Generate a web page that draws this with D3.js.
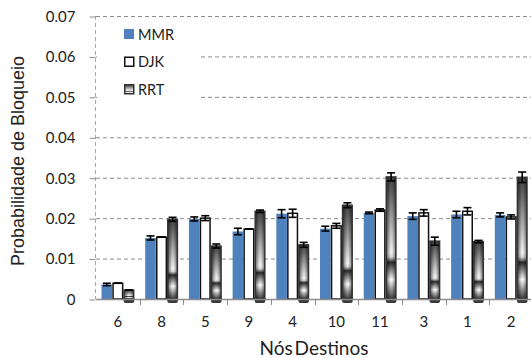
<!DOCTYPE html>
<html>
<head>
<meta charset="utf-8">
<script src="https://cdn.jsdelivr.net/npm/d3@7"></script>
<style>
  body { margin: 0; background: #fff; }
  svg { display: block; }
</style>
</head>
<body>
<div id="chart"></div>
<script>
// data
const categories = ["6", "8", "5", "9", "4", "10", "11", "3", "1", "2"];
const series = ["MMR", "DJK", "RRT"];
const mmr    = [0.0036, 0.0151, 0.0198, 0.0167, 0.0211, 0.0174, 0.0213, 0.0205, 0.0209, 0.0208];
const djk    = [0.0039, 0.0153, 0.0200, 0.0173, 0.0212, 0.0181, 0.0220, 0.0213, 0.0217, 0.0203];
const rrt    = [0.0022, 0.0197, 0.0131, 0.0217, 0.0134, 0.0232, 0.0302, 0.0143, 0.0142, 0.0301];
const mmrErr = [0.0003, 0.0005, 0.0005, 0.0008, 0.0010, 0.0006, 0.0002, 0.0008, 0.0008, 0.0005];
const djkErr = [0.0000, 0.0000, 0.0006, 0.0000, 0.0010, 0.0006, 0.0003, 0.0008, 0.0009, 0.0005];
const rrtErr = [0.0000, 0.0005, 0.0005, 0.0003, 0.0006, 0.0006, 0.0010, 0.0010, 0.0003, 0.0013];
const yTicks = [0, 0.01, 0.02, 0.03, 0.04, 0.05, 0.06, 0.07];

const width = 531, height = 358;
const svg = d3.select("#chart").append("svg")
  .attr("width", width)
  .attr("height", height);

const labelFont = "Lato, 'Open Sans', sans-serif";

const defs = svg.append("defs");
// RRT fill: banded vertical gradient plus darker sides
const vg = defs.append("linearGradient").attr("id", "rrtV")
  .attr("x1", 0).attr("y1", 0).attr("x2", 0).attr("y2", 1);
[[0, "#454545"], [0.1, "#5a5a5a"], [0.62, "#f0f0f0"], [0.655, "#d8d8d8"], [0.7, "#2c2c2c"],
 [0.84, "#fafafa"], [0.93, "#8a8a8a"], [1, "#3a3a3a"]]
  .forEach(s => vg.append("stop").attr("offset", s[0]).attr("stop-color", s[1]));
const hg = defs.append("linearGradient").attr("id", "rrtH")
  .attr("x1", 0).attr("y1", 0).attr("x2", 1).attr("y2", 0);
[[0, 0.55], [0.45, 0], [0.6, 0], [1, 0.5]]
  .forEach(s => hg.append("stop").attr("offset", s[0]).attr("stop-color", "#000").attr("stop-opacity", s[1]));

const x = d3.scaleBand().domain(categories).range([96, 533]);
const x1 = d3.scaleBand().domain(series).range([0, x.bandwidth()]).paddingInner(0.04).paddingOuter(0.5);
const y = d3.scaleLinear().domain([0, 0.07]).range([299, 16]);

// grid lines
svg.append("g").selectAll("line")
  .data(yTicks.filter(d => d > 0))
  .join("line")
  .attr("x1", 96).attr("x2", width)
  .attr("y1", d => y(d) + 0.5).attr("y2", d => y(d) + 0.5)
  .attr("stroke", "#8c8c8c")
  .attr("stroke-dasharray", "4,3");

// left axis (dashed) with ticks
svg.append("line")
  .attr("x1", 95.5).attr("x2", 95.5).attr("y1", y(0.07)).attr("y2", y(0))
  .attr("stroke", "#a6a6a6").attr("stroke-dasharray", "4,3");
const yAxis = svg.append("g")
  .attr("transform", "translate(95.5,0.5)")
  .call(d3.axisLeft(y).tickValues(yTicks).tickSize(6).tickPadding(14)
    .tickFormat(d => d === 0 ? "0" : d3.format(".2f")(d)));
yAxis.select(".domain").remove();
yAxis.selectAll("line").attr("stroke", "#8c8c8c");
yAxis.selectAll("text")
  .attr("font-family", labelFont)
  .attr("font-size", 15).attr("fill", "#222");

// legend box background
svg.append("rect")
  .attr("x", 97).attr("y", 20).attr("width", 104).attr("height", 82)
  .attr("fill", "#fff");

// bars
const groups = svg.append("g").selectAll("g")
  .data(categories.map((c, i) => ({ c, v: [mmr[i], djk[i], rrt[i]], e: [mmrErr[i], djkErr[i], rrtErr[i]] })))
  .join("g")
  .attr("transform", d => `translate(${x(d.c)},0)`);

const bw = x1.bandwidth();
groups.each(function (d) {
  const g = d3.select(this);
  // RRT base shadow below the axis
  g.append("rect")
    .attr("x", x1("RRT")).attr("y", y(0) - 3).attr("width", bw).attr("height", 7)
    .attr("rx", 2).attr("fill", "#3a3a3a");
  series.forEach((s, k) => {
    const bx = x1(s), top = y(d.v[k]), h = y(0) - top;
    if (s === "MMR") {
      g.append("rect").attr("x", bx).attr("y", top).attr("width", bw).attr("height", h)
        .attr("fill", "#4f81bd");
    } else if (s === "DJK") {
      g.append("rect").attr("x", bx + 0.5).attr("y", top).attr("width", bw - 1).attr("height", h)
        .attr("fill", "#fff").attr("stroke", "#111").attr("stroke-width", 1.5);
    } else {
      g.append("rect").attr("x", bx + 0.5).attr("y", top).attr("width", bw - 1).attr("height", h)
        .attr("fill", "url(#rrtV)");
      g.append("rect").attr("x", bx + 0.5).attr("y", top).attr("width", bw - 1).attr("height", h)
        .attr("fill", "url(#rrtH)").attr("stroke", "#333").attr("stroke-width", 1.5);
    }
    // error bar
    const cx = bx + bw / 2, e = d.e[k];
    const eg = g.append("g").attr("stroke", "#000").attr("stroke-width", 1.6);
    eg.append("line").attr("x1", cx).attr("x2", cx).attr("y1", y(d.v[k] - e)).attr("y2", y(d.v[k] + e));
    [d.v[k] - e, d.v[k] + e].forEach(v => {
      eg.append("line").attr("x1", cx - 4).attr("x2", cx + 4).attr("y1", y(v)).attr("y2", y(v));
    });
  });
});

// bottom axis
const xAxis = svg.append("g")
  .attr("transform", `translate(0,${y(0) + 0.5})`)
  .call(d3.axisBottom(x).tickSize(0).tickPadding(17));
xAxis.select(".domain").attr("d", `M96,0H${width}`).attr("stroke", "#8c8c8c").attr("stroke-width", 1.5);
xAxis.selectAll("text")
  .attr("font-family", labelFont)
  .attr("font-size", 15).attr("fill", "#222");
svg.append("g").selectAll("line")
  .data(categories.slice(1))
  .join("line")
  .attr("x1", d => Math.round(x(d)) + 0.5).attr("x2", d => Math.round(x(d)) + 0.5)
  .attr("y1", y(0)).attr("y2", y(0) + 6)
  .attr("stroke", "#8c8c8c");

// legend
const legend = svg.append("g").attr("transform", "translate(124,29)");
series.forEach((s, i) => {
  const lg = legend.append("g").attr("transform", `translate(0,${i * 27.5})`);
  if (s === "MMR") {
    lg.append("rect").attr("width", 10).attr("height", 10).attr("fill", "#4f81bd");
  } else if (s === "DJK") {
    lg.append("rect").attr("x", 0.75).attr("y", 0.75).attr("width", 9).attr("height", 9)
      .attr("fill", "#fff").attr("stroke", "#111").attr("stroke-width", 1.5);
  } else {
    lg.append("rect").attr("x", 0.75).attr("y", 0.75).attr("width", 9).attr("height", 9)
      .attr("fill", "url(#rrtV)").attr("stroke", "#333").attr("stroke-width", 1.5);
  }
  lg.append("text").attr("x", 14).attr("y", 10.5)
    .attr("font-family", labelFont)
    .attr("font-size", 14.5).attr("fill", "#222")
    .text(s);
});

// axis titles
svg.append("text")
  .attr("transform", "translate(24,161) rotate(-90)")
  .attr("text-anchor", "middle")
  .attr("font-family", "'Liberation Sans', Arial, sans-serif")
  .attr("font-size", 18).attr("fill", "#222")
  .text("Probabilidade de Bloqueio");
svg.append("text")
  .attr("x", 314).attr("y", 355)
  .attr("text-anchor", "middle")
  .attr("font-family", labelFont)
  .attr("font-size", 19).attr("fill", "#222")
  .attr("word-spacing", -3)
  .text("Nós Destinos");
</script>
</body>
</html>
